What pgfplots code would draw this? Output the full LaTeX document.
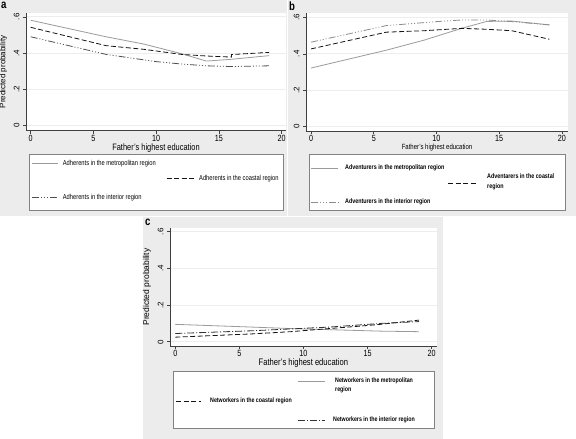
\documentclass[border=0pt]{standalone}
\usepackage{fontspec}
\setmainfont[FakeStretch=0.8]{Liberation Sans}
\newfontfamily\rotfont{Liberation Sans}
\usepackage{pgfplots}
\pgfplotsset{compat=1.18}
\definecolor{bgc}{RGB}{236,236,236}
\definecolor{metro}{RGB}{155,155,155}
\definecolor{coast}{RGB}{20,20,20}
\definecolor{intA}{RGB}{80,80,80}
\definecolor{intB}{RGB}{140,140,140}
\definecolor{intC}{RGB}{50,50,50}
\definecolor{boxc}{RGB}{130,130,130}
\tikzset{
  metroS/.style={color=metro, solid},
  coastS/.style={color=coast, dash pattern=on 5pt off 2.5pt},
  intAS/.style={color=intA, dash pattern=on 7pt off 2pt on 1pt off 2pt on 1pt off 2pt on 1pt off 2pt},
  intBS/.style={color=intB, dash pattern=on 7pt off 2pt on 1pt off 2pt on 1pt off 2pt on 1pt off 2pt},
  intCS/.style={color=intC, dash pattern=on 7pt off 2pt on 1pt off 2pt},
}
\pgfplotsset{
  stata/.style={
    scale only axis, anchor=south west,
    axis x line*=bottom, axis y line*=left,
    axis line style={black!75, line width=0.6pt, -},
    tick style={black!75, line width=0.6pt},
    tick align=outside, major tick length=3pt,
    xtick={0,5,10,15,20}, ytick={0,0.2,0.4,0.6}, yticklabels={0,.2,.4,.6},
    ymajorgrids, grid style={black!7, line width=0.7pt},
    axis background/.style={fill=white},
    /pgf/number format/assume math mode=true,
    xticklabel style={font=\fontsize{9}{10}\selectfont, inner sep=0.5pt, yshift=-0.5pt},
    yticklabel style={font=\rotfont\fontsize{8}{9}\selectfont, rotate=90, anchor=south},
    every axis plot/.append style={line width=0.8pt},
  },
}
\begin{document}
\begin{tikzpicture}[x=1pt,y=1pt]
\path[use as bounding box] (0,0) rectangle (576,439);
\fill[white] (0,0) rectangle (576,439);
\fill[bgc] (0,223) rectangle (286.5,439);
\fill[bgc] (287.5,223) rectangle (576,439);
\fill[bgc] (143,0) rectangle (443,222);

% ---------------- panel a
\begin{axis}[stata, at={(26pt,308.3pt)}, width=260pt, height=117.7pt,
  xmin=-0.375, xmax=20.34, ymin=-0.0275, ymax=0.621,
  xlabel={Father's highest education},
  xlabel style={font=\fontsize{9.3}{10}\selectfont, inner sep=0.5pt, yshift=-1.5pt},
  ylabel={Predicted probability},
  ylabel style={font=\rotfont\fontsize{8}{9}\selectfont}]
\addplot[metroS] coordinates {(0,0.581) (6,0.49) (9,0.45) (12,0.397) (14,0.356) (16,0.366) (19,0.386)};
\addplot[coastS] coordinates {(0,0.542) (6,0.441) (9,0.421) (12,0.393) (14,0.384) (16,0.378) (16,0.392) (19,0.404)};
\addplot[intAS] coordinates {(0,0.49) (6,0.393) (10,0.353) (12,0.34) (14,0.33) (16,0.326) (19,0.33)};
\end{axis}

% ---------------- panel b
\begin{axis}[stata, at={(306pt,308pt)}, width=262pt, height=118.3pt,
  xmin=-0.4, xmax=20.48, ymin=-0.024, ymax=0.626,
  xlabel={Father's highest education},
  xlabel style={font=\fontsize{7.5}{8}\selectfont, inner sep=0.5pt, yshift=-1.5pt}]
\addplot[metroS] coordinates {(0,0.322) (6,0.42) (9,0.475) (12,0.54) (14,0.578) (16,0.58) (19,0.559)};
\addplot[coastS] coordinates {(0,0.427) (6,0.519) (9,0.527) (12,0.54) (14,0.535) (16,0.527) (19,0.48)};
\addplot[intBS] coordinates {(0,0.464) (6,0.555) (10,0.577) (12,0.586) (14,0.586) (16,0.577) (19,0.559)};
\end{axis}

% ---------------- panel c
\begin{axis}[stata, at={(170pt,93pt)}, width=266.7pt, height=118pt,
  xmin=-0.41, xmax=20.39, ymin=-0.023, ymax=0.62,
  xlabel={Father's highest education},
  xlabel style={font=\fontsize{9.5}{10}\selectfont, inner sep=0.5pt, yshift=-1pt},
  ylabel={Predicted probability},
  ylabel style={font=\rotfont\fontsize{8.5}{9}\selectfont}]
\addplot[metroS] coordinates {(0,0.095) (6,0.08) (9,0.072) (12,0.066) (14,0.062) (16,0.058) (19,0.055)};
\addplot[coastS] coordinates {(0,0.025) (6,0.043) (9,0.055) (12,0.072) (14,0.083) (16,0.095) (19,0.118)};
\addplot[intCS] coordinates {(0,0.045) (6,0.06) (9,0.07) (12,0.08) (14,0.09) (16,0.1) (19,0.11)};
\end{axis}

% panel letters
\node[font=\bfseries\fontsize{12}{12}\selectfont, anchor=north west, inner sep=0pt] at (1,437.5) {a};
\node[font=\bfseries\fontsize{12}{12}\selectfont, anchor=north west, inner sep=0pt] at (289,437.5) {b};
\node[font=\bfseries\fontsize{12}{12}\selectfont, anchor=north west, inner sep=0pt] at (145,220) {c};

% legend a
\draw[boxc, fill=white, line width=0.6pt] (29,228.3) rectangle (283,285);
\begin{scope}[every node/.style={font=\fontsize{7.2}{9}\selectfont, anchor=west, inner sep=0pt}]
\draw[metroS, line width=0.8pt] (32,275.3) -- (58.3,275.3); \node at (62.7,275.3) {Adherents in the metropolitan region};
\draw[coastS, line width=0.8pt] (166.7,260.7) -- (194,260.7); \node at (199,260.7) {Adherents in the coastal region};
\draw[intAS, line width=0.8pt] (32,241.7) -- (58.3,241.7); \node at (62.7,241.7) {Adherents in the interior region};
\end{scope}

% legend b
\draw[boxc, fill=white, line width=0.6pt] (309,229) rectangle (565,285);
\begin{scope}[every node/.style={font=\bfseries\fontsize{6.7}{10}\selectfont, anchor=west, inner sep=0pt, align=left}]
\draw[metroS, line width=0.8pt] (311,271) -- (338,271); \node at (345,271) {Adventurers in the metropolitan region};
\draw[coastS, line width=0.8pt] (448,256) -- (477,256); \node at (487,257) {Adventarers in the coastal\\region};
\draw[intBS, line width=0.8pt] (311,237) -- (339,237); \node at (345,237) {Adventurers in the interior region};
\end{scope}

% legend c
\draw[boxc, fill=white, line width=0.6pt] (173,11) rectangle (434,68);
\begin{scope}[every node/.style={font=\bfseries\fontsize{6.6}{9}\selectfont, anchor=west, inner sep=0pt, align=left}]
\draw[metroS, line width=0.8pt] (298,58) -- (325,58); \node at (335,54) {Networkers in the metropolitan\\region};
\draw[coastS, line width=0.8pt] (176,38) -- (201,38); \node at (210,38) {Networkers in the coastal region};
\draw[intCS, line width=0.8pt] (298,19) -- (325,19); \node at (333,19) {Networkers in the interior region};
\end{scope}
\end{tikzpicture}
\end{document}
